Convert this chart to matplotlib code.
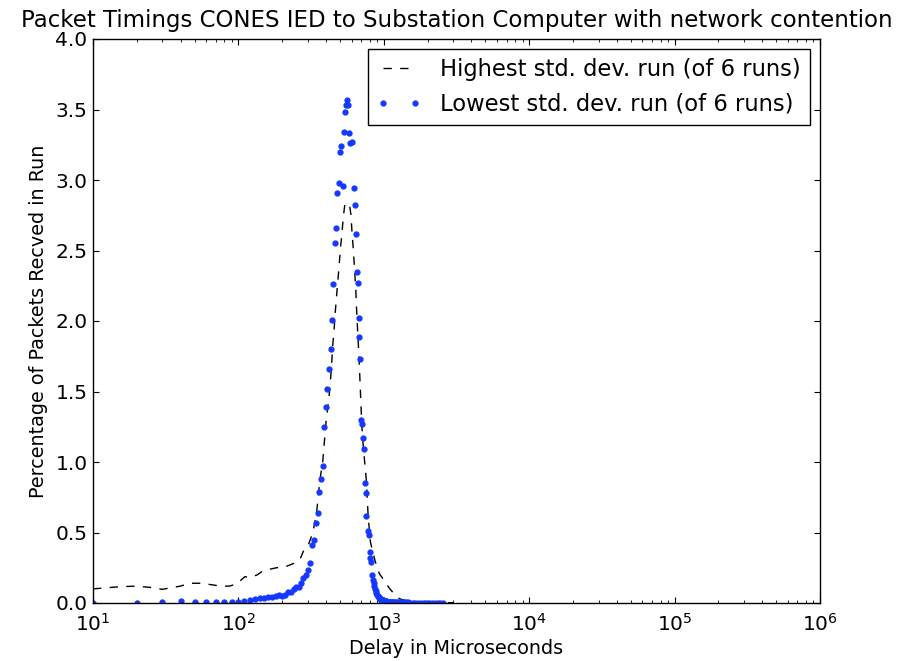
import matplotlib
matplotlib.use('Agg')
import matplotlib.pyplot as plt
from matplotlib.ticker import FixedLocator, FormatStrFormatter

# black dashed run (highest std. dev.)
hi_x = [10, 15, 20, 25, 30, 40, 46, 55, 65, 75, 87, 97, 111, 120, 135, 148, 165, 183,
        200, 214, 239, 264, 286, 302, 315, 328, 345, 363, 380, 390, 400, 415, 427, 437,
        445, 455, 465, 477, 490, 502, 515, 527, 540, 560, 580, 595, 605, 617, 630, 642,
        650, 660, 670, 680, 688, 697, 705, 720, 740, 760, 780, 810, 870, 930, 1020, 1100,
        1230, 1300, 1500, 2000, 3000]
hi_y = [0.10, 0.115, 0.12, 0.11, 0.097, 0.12, 0.14, 0.14, 0.13, 0.12, 0.12, 0.135, 0.187,
        0.18, 0.20, 0.23, 0.24, 0.25, 0.255, 0.26, 0.28, 0.305, 0.39, 0.41, 0.46, 0.52,
        0.64, 0.87, 1.0, 1.14, 1.28, 1.41, 1.54, 1.68, 1.82, 1.94, 2.08, 2.22, 2.36, 2.50,
        2.62, 2.74, 2.83, 2.83, 2.83, 2.75, 2.62, 2.51, 2.36, 2.22, 2.08, 1.94, 1.81, 1.67,
        1.54, 1.40, 1.27, 1.13, 0.99, 0.86, 0.62, 0.43, 0.30, 0.21, 0.15, 0.10, 0.043,
        0.028, 0.01, 0.004, 0.002]

# blue dotted run (lowest std. dev.), 10 us bins
lo_x = [10, 20, 30, 40, 50, 60, 70, 80, 90, 100, 110, 120, 130, 140, 150, 160, 170, 180,
        190, 200, 210, 220, 230, 240, 250, 260, 270, 280, 290, 300, 310, 320, 330, 340,
        350, 360, 370, 380, 390, 400, 410, 420, 430, 440, 450, 460, 470, 480, 490, 500,
        510, 520, 530, 540, 550, 560, 570, 580, 590, 600, 620, 630, 640, 650, 660, 670,
        680, 690, 700, 710, 720, 730, 740, 750, 760, 780, 790, 800, 810, 820, 830, 840,
        850, 860, 870, 880, 890, 900, 910, 920, 930, 940, 950, 960, 970, 980, 990, 1000,
        1010, 1020, 1030, 1040, 1050, 1060, 1070, 1080, 1090, 1100, 1120, 1140, 1160,
        1180, 1200, 1230, 1260, 1300, 1340, 1380, 1420, 1470, 1520, 1580, 1650, 1720,
        1800, 1880, 1960, 2050, 2150, 2250, 2350, 2450, 2550]
lo_y = [0.002, 0.003, 0.005, 0.012, 0.006, 0.005, 0.006, 0.007, 0.007, 0.007, 0.012, 0.02,
        0.03, 0.035, 0.033, 0.04, 0.045, 0.05, 0.057, 0.05, 0.06, 0.075, 0.08, 0.10, 0.11,
        0.116, 0.14, 0.175, 0.20, 0.234, 0.286, 0.41, 0.45, 0.565, 0.636, 0.79, 0.88, 0.97,
        1.25, 1.39, 1.52, 1.66, 1.80, 2.01, 2.26, 2.55, 2.66, 2.91, 2.98, 3.20, 3.24, 2.96,
        3.34, 3.48, 3.53, 3.57, 3.53, 3.33, 3.26, 3.27, 2.94, 2.82, 2.62, 2.35, 2.27, 2.02,
        1.89, 1.73, 1.30, 1.27, 1.17, 1.09, 0.85, 0.78, 0.62, 0.51, 0.48, 0.36, 0.32, 0.29,
        0.20, 0.16, 0.14, 0.12, 0.10, 0.085, 0.07, 0.06, 0.05, 0.042, 0.035, 0.03, 0.027,
        0.024, 0.021, 0.019, 0.017, 0.016, 0.014, 0.013, 0.012, 0.011, 0.010, 0.010, 0.009,
        0.009, 0.008, 0.008, 0.007, 0.007, 0.006, 0.006, 0.006, 0.005, 0.005, 0.005, 0.004,
        0.004, 0.004, 0.004, 0.003, 0.003, 0.003, 0.003, 0.003, 0.002, 0.002, 0.002, 0.002,
        0.002, 0.002, 0.002, 0.002]

y_ticks = [0.0, 0.5, 1.0, 1.5, 2.0, 2.5, 3.0, 3.5, 4.0]

plt.rcParams['font.family'] = 'DejaVu Sans'
plt.rcParams['mathtext.fontset'] = 'dejavusans'
plt.rcParams['xtick.direction'] = 'in'
plt.rcParams['ytick.direction'] = 'in'
plt.rcParams['xtick.top'] = True
plt.rcParams['ytick.right'] = True

fig = plt.figure(figsize=(9.15, 6.61), dpi=100)
ax = fig.add_axes([93/915, 58/661, 727/915, 564/661])

ax.plot(hi_x, hi_y, 'k--', lw=1.0, dashes=(6, 6), label='Highest std. dev. run (of 6 runs)')
ax.plot(lo_x, lo_y, '.', color='#1438ff', ms=7, mec='#1438ff', lw=0,
        label='Lowest std. dev. run (of 6 runs)')

ax.set_xscale('log')
ax.set_xlim(10, 1e6)
ax.set_ylim(0, 4.0)
ax.yaxis.set_major_locator(FixedLocator(y_ticks))
ax.yaxis.set_major_formatter(FormatStrFormatter('%.1f'))
ax.tick_params(which='major', length=4, width=0.8, labelsize=14.5)
ax.tick_params(axis='y', pad=4)
ax.tick_params(axis='x', pad=7)
ax.tick_params(which='minor', length=2, width=0.6)
for s in ax.spines.values():
    s.set_linewidth(1.0)

ax.set_title('Packet Timings CONES IED to Substation Computer with network contention',
             fontsize=16.5, pad=9)
ax.set_xlabel('Delay in Microseconds', fontsize=13.8, labelpad=3)
ax.set_ylabel('Percentage of Packets Recved in Run', fontsize=13.8, labelpad=5)

leg = ax.legend(loc='upper right', fontsize=16.3, numpoints=2, handlelength=2.0,
                fancybox=False, framealpha=1, borderaxespad=0.45)
leg.get_frame().set_edgecolor('black')
leg.get_frame().set_linewidth(1.0)

fig.savefig('out.png', dpi=100)
